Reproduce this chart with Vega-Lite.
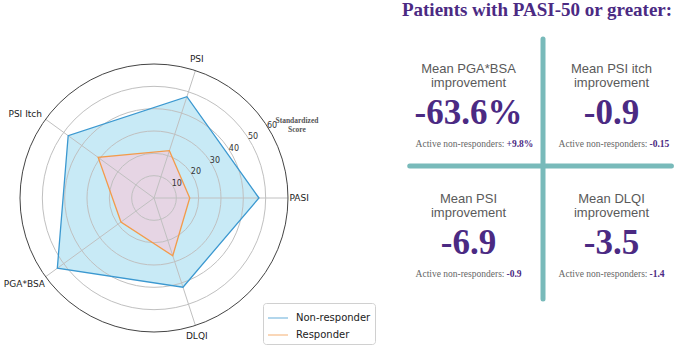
{
  "$schema": "https://vega.github.io/schema/vega-lite/v6.json",
  "padding": 0,
  "background": "white",
  "spacing": 14,
  "config": {"view": {"stroke": null}},
  "resolve": {"scale": {"color": "independent", "fill": "independent", "size": "independent"}, "legend": {"color": "independent", "fill": "independent", "size": "independent"}},
  "datasets": {
    "scores": [
      {"metric": "PASI", "group": "Non-responder", "value": 47},
      {"metric": "PSI", "group": "Non-responder", "value": 47.7},
      {"metric": "PSI Itch", "group": "Non-responder", "value": 47.5},
      {"metric": "PGA*BSA", "group": "Non-responder", "value": 53.5},
      {"metric": "DLQI", "group": "Non-responder", "value": 42},
      {"metric": "PASI", "group": "Responder", "value": 16},
      {"metric": "PSI", "group": "Responder", "value": 22.3},
      {"metric": "PSI Itch", "group": "Responder", "value": 30.9},
      {"metric": "PGA*BSA", "group": "Responder", "value": 18.3},
      {"metric": "DLQI", "group": "Responder", "value": 27.2}
    ],
    "metrics": [
      {"metric": "PASI"}, {"metric": "PSI"}, {"metric": "PSI Itch"}, {"metric": "PGA*BSA"}, {"metric": "DLQI"}
    ],
    "rings": [
      {"score": 10}, {"score": 20}, {"score": 30}, {"score": 40}, {"score": 50}, {"score": 60}
    ],
    "panel": [
      {"col": "left", "row": "top", "line1": "Mean PGA*BSA", "line2": "improvement", "value": "-63.6%", "nonresp": "+9.8%"},
      {"col": "right", "row": "top", "line1": "Mean PSI itch", "line2": "improvement", "value": "-0.9", "nonresp": "-0.15"},
      {"col": "left", "row": "bottom", "line1": "Mean PSI", "line2": "improvement", "value": "-6.9", "nonresp": "-0.9"},
      {"col": "right", "row": "bottom", "line1": "Mean DLQI", "line2": "improvement", "value": "-3.5", "nonresp": "-1.4"}
    ]
  },
  "hconcat": [
    {
      "width": 380,
      "height": 317,
      "layer": [
        {
          "data": {"name": "scores"},
          "transform": [
            {"calculate": "indexof(['PASI','PSI','PSI Itch','PGA*BSA','DLQI'], datum.metric)", "as": "idx"},
            {"calculate": "datum.idx*2*PI/5", "as": "ang"},
            {"calculate": "datum.value*cos(datum.ang)", "as": "px"},
            {"calculate": "datum.value*sin(datum.ang)", "as": "py"},
            {"calculate": "datum.group", "as": "areaGroup"}
          ],
          "mark": {"type": "line", "interpolate": "linear-closed", "strokeOpacity": 0},
          "encoding": {
            "x": {"field": "px", "type": "quantitative", "scale": {"domain": [-68.955, 101.194], "nice": false, "zero": false}, "axis": null},
            "y": {"field": "py", "type": "quantitative", "scale": {"domain": [-70.746, 71.194], "nice": false, "zero": false}, "axis": null},
            "order": {"field": "idx", "type": "quantitative"},
            "fill": {"field": "areaGroup", "type": "nominal", "scale": {"range": ["#c8eaf6", "#e6d5e4"]}, "legend": null}
          }
        },
        {
          "data": {"name": "rings"},
          "transform": [{"filter": "datum.score < 60"}, {"calculate": "0", "as": "cx"}],
          "mark": {"type": "point", "shape": "circle", "filled": false, "color": "#c0c0c0", "strokeWidth": 1, "opacity": 1},
          "encoding": {
            "x": {"field": "cx", "type": "quantitative"},
            "y": {"field": "cx", "type": "quantitative"},
            "size": {"field": "score", "type": "quantitative", "scale": {"type": "pow", "exponent": 2, "domain": [0, 60], "range": [0, 71824]}, "legend": null}
          }
        },
        {
          "data": {"name": "metrics"},
          "transform": [
            {"calculate": "indexof(['PASI','PSI','PSI Itch','PGA*BSA','DLQI'], datum.metric)", "as": "idx"},
            {"calculate": "datum.idx*2*PI/5", "as": "ang"},
            {"calculate": "60*cos(datum.ang)", "as": "ex"},
            {"calculate": "60*sin(datum.ang)", "as": "ey"},
            {"calculate": "0", "as": "cx"}
          ],
          "mark": {"type": "rule", "color": "#c0c0c0", "strokeWidth": 1},
          "encoding": {
            "x": {"field": "cx", "type": "quantitative"},
            "y": {"field": "cx", "type": "quantitative"},
            "x2": {"field": "ex"},
            "y2": {"field": "ey"}
          }
        },
        {
          "data": {"name": "scores"},
          "transform": [
            {"calculate": "indexof(['PASI','PSI','PSI Itch','PGA*BSA','DLQI'], datum.metric)", "as": "idx"},
            {"calculate": "datum.idx*2*PI/5", "as": "ang"},
            {"calculate": "datum.value*cos(datum.ang)", "as": "px"},
            {"calculate": "datum.value*sin(datum.ang)", "as": "py"}
          ],
          "mark": {"type": "line", "interpolate": "linear-closed", "strokeWidth": 1.3},
          "encoding": {
            "x": {"field": "px", "type": "quantitative"},
            "y": {"field": "py", "type": "quantitative"},
            "order": {"field": "idx", "type": "quantitative"},
            "color": {
              "field": "group", "type": "nominal",
              "scale": {"domain": ["Non-responder", "Responder"], "range": ["#3b98d0", "#f39b4b"]},
              "legend": {
                "orient": "none", "legendX": 263, "legendY": 264, "title": null,
                "symbolType": "stroke", "symbolSize": 400, "symbolStrokeWidth": 1.3, "symbolOpacity": 0.6,
                "labelFont": "DejaVu Sans", "labelFontSize": 10, "labelColor": "#222222", "labelOffset": 7,
                "strokeColor": "#d0d0d0", "cornerRadius": 3, "padding": 4, "fillColor": "white", "rowPadding": 1
              }
            }
          }
        },
        {
          "data": {"name": "rings"},
          "transform": [{"filter": "datum.score == 60"}, {"calculate": "0", "as": "cx"}],
          "mark": {"type": "point", "shape": "circle", "filled": false, "color": "#444444", "strokeWidth": 1, "opacity": 1},
          "encoding": {
            "x": {"field": "cx", "type": "quantitative"},
            "y": {"field": "cx", "type": "quantitative"},
            "size": {"field": "score", "type": "quantitative", "legend": null}
          }
        },
        {
          "data": {"name": "rings"},
          "transform": [
            {"calculate": "(datum.score+2)*cos(0.55)", "as": "tx"},
            {"calculate": "(datum.score+2)*sin(0.55)", "as": "ty"}
          ],
          "mark": {"type": "text", "font": "DejaVu Sans", "fontSize": 8, "color": "#333333"},
          "encoding": {
            "x": {"field": "tx", "type": "quantitative"},
            "y": {"field": "ty", "type": "quantitative"},
            "text": {"field": "score"}
          }
        },
        {
          "data": {"name": "metrics"},
          "transform": [
            {"filter": "datum.metric == 'PASI'"},
            {"calculate": "62", "as": "lx"},
            {"calculate": "0", "as": "ly"}
          ],
          "mark": {"type": "text", "font": "DejaVu Sans", "fontSize": 9, "color": "#222222", "align": "left", "baseline": "middle", "dx": -3},
          "encoding": {"x": {"field": "lx", "type": "quantitative"}, "y": {"field": "ly", "type": "quantitative"}, "text": {"field": "metric"}}
        },
        {
          "data": {"name": "metrics"},
          "transform": [
            {"filter": "datum.metric == 'PSI'"},
            {"calculate": "62*cos(2*PI/5)", "as": "lx"},
            {"calculate": "62*sin(2*PI/5)", "as": "ly"}
          ],
          "mark": {"type": "text", "font": "DejaVu Sans", "fontSize": 9, "color": "#222222", "align": "center", "baseline": "bottom", "dy": -2},
          "encoding": {"x": {"field": "lx", "type": "quantitative"}, "y": {"field": "ly", "type": "quantitative"}, "text": {"field": "metric"}}
        },
        {
          "data": {"name": "metrics"},
          "transform": [
            {"filter": "datum.metric == 'PSI Itch'"},
            {"calculate": "62*cos(4*PI/5)", "as": "lx"},
            {"calculate": "62*sin(4*PI/5)", "as": "ly"}
          ],
          "mark": {"type": "text", "font": "DejaVu Sans", "fontSize": 9, "color": "#222222", "align": "right", "baseline": "middle", "dy": -3},
          "encoding": {"x": {"field": "lx", "type": "quantitative"}, "y": {"field": "ly", "type": "quantitative"}, "text": {"field": "metric"}}
        },
        {
          "data": {"name": "metrics"},
          "transform": [
            {"filter": "datum.metric == 'PGA*BSA'"},
            {"calculate": "62*cos(6*PI/5)", "as": "lx"},
            {"calculate": "62*sin(6*PI/5)", "as": "ly"}
          ],
          "mark": {"type": "text", "font": "DejaVu Sans", "fontSize": 9, "color": "#222222", "align": "right", "baseline": "middle", "dx": 3, "dy": 5},
          "encoding": {"x": {"field": "lx", "type": "quantitative"}, "y": {"field": "ly", "type": "quantitative"}, "text": {"field": "metric"}}
        },
        {
          "data": {"name": "metrics"},
          "transform": [
            {"filter": "datum.metric == 'DLQI'"},
            {"calculate": "62*cos(8*PI/5)", "as": "lx"},
            {"calculate": "62*sin(8*PI/5)", "as": "ly"}
          ],
          "mark": {"type": "text", "font": "DejaVu Sans", "fontSize": 9, "color": "#222222", "align": "center", "baseline": "top", "dy": 2},
          "encoding": {"x": {"field": "lx", "type": "quantitative"}, "y": {"field": "ly", "type": "quantitative"}, "text": {"field": "metric"}}
        },
        {
          "data": {"values": [{"note": "Standardized\nScore"}]},
          "transform": [{"calculate": "64.0", "as": "nx"}, {"calculate": "34.3", "as": "ny"}],
          "mark": {"type": "text", "font": "Liberation Serif", "fontSize": 7.5, "fontWeight": "bold", "color": "#555555", "align": "center", "baseline": "middle", "lineBreak": "\n", "lineHeight": 9},
          "encoding": {
            "x": {"field": "nx", "type": "quantitative"},
            "y": {"field": "ny", "type": "quantitative"},
            "text": {"field": "note"}
          }
        }
      ]
    },
    {
      "title": {"text": "Patients with PASI-50 or greater:", "font": "Liberation Serif", "fontSize": 19, "fontWeight": "bold", "color": "#4b2a83", "anchor": "middle", "offset": 17},
      "width": 286,
      "height": 260,
      "layer": [
        {
          "data": {"values": [{"c": "right"}]},
          "mark": {"type": "rule", "color": "#78baba", "strokeWidth": 5, "strokeCap": "round", "xOffset": 6},
          "encoding": {
            "x": {"field": "c", "type": "nominal", "bandPosition": 0, "scale": {"type": "band", "domain": ["left", "right"], "paddingInner": 0, "paddingOuter": 0}, "axis": null}
          }
        },
        {
          "data": {"values": [{"r": "bottom", "c1": "left", "c2": "right"}]},
          "mark": {"type": "rule", "color": "#78baba", "strokeWidth": 5, "strokeCap": "round", "yOffset": -3},
          "encoding": {
            "y": {"field": "r", "type": "nominal", "bandPosition": 0, "scale": {"type": "band", "domain": ["top", "bottom"], "paddingInner": 0, "paddingOuter": 0}, "axis": null},
            "x": {"field": "c1", "type": "nominal", "bandPosition": 0.11},
            "x2": {"field": "c2", "bandPosition": 0.94}
          }
        },
        {
          "data": {"name": "panel"},
          "mark": {"type": "text", "font": "Liberation Sans", "fontSize": 13, "color": "#5a5a5a", "dx": 3, "dy": -35.5},
          "encoding": {
            "x": {"field": "col", "type": "nominal"},
            "y": {"field": "row", "type": "nominal"},
            "text": {"field": "line1"}
          }
        },
        {
          "data": {"name": "panel"},
          "mark": {"type": "text", "font": "Liberation Sans", "fontSize": 13, "color": "#5a5a5a", "dx": 3, "dy": -21},
          "encoding": {
            "x": {"field": "col", "type": "nominal"},
            "y": {"field": "row", "type": "nominal"},
            "text": {"field": "line2"}
          }
        },
        {
          "data": {"name": "panel"},
          "mark": {"type": "text", "font": "Liberation Serif", "fontSize": 35, "fontWeight": "bold", "color": "#4b2a83", "dx": 3, "dy": 8.5},
          "encoding": {
            "x": {"field": "col", "type": "nominal"},
            "y": {"field": "row", "type": "nominal"},
            "text": {"field": "value"}
          }
        },
        {
          "data": {"name": "panel"},
          "mark": {"type": "text", "font": "Liberation Serif", "fontSize": 9.5, "color": "#666666", "align": "right", "dx": 39, "dy": 39.5, "text": "Active non-responders:"},
          "encoding": {
            "x": {"field": "col", "type": "nominal"},
            "y": {"field": "row", "type": "nominal"}
          }
        },
        {
          "data": {"name": "panel"},
          "mark": {"type": "text", "font": "Liberation Serif", "fontSize": 9.5, "fontWeight": "bold", "color": "#4b2a83", "align": "left", "dx": 41, "dy": 39.5},
          "encoding": {
            "x": {"field": "col", "type": "nominal"},
            "y": {"field": "row", "type": "nominal"},
            "text": {"field": "nonresp"}
          }
        }
      ]
    }
  ]
}
